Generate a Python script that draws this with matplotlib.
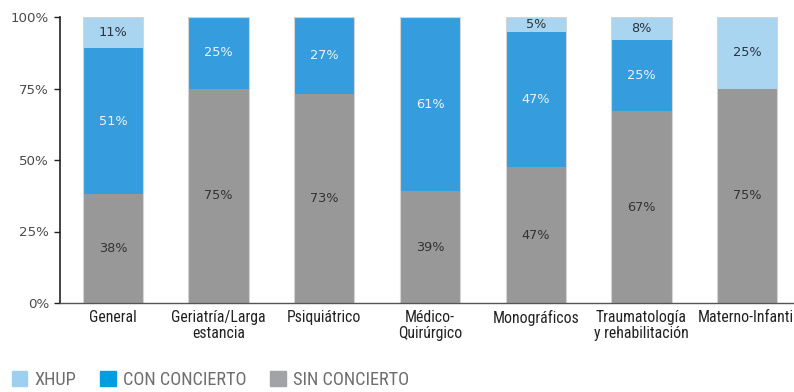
import matplotlib.pyplot as plt
from matplotlib import font_manager
from matplotlib.patches import Patch

categorias = ["General", "Geriatría/Larga\nestancia", "Psiquiátrico", "Médico-\nQuirúrgico",
              "Monográficos", "Traumatología\ny rehabilitación", "Materno-Infantil"]
sin_concierto = [38, 75, 73, 39, 47.4, 67, 75]
con_concierto = [51, 25, 27, 61, 47.4, 25, 0]
xhup = [11, 0, 0, 0, 5.2, 8, 25]
ticks_y = [0, 25, 50, 75, 100]


def fuente(opciones):
    nombres = {f.name for f in font_manager.fontManager.ttflist}
    for n in opciones:
        if n in nombres:
            return n
    return "DejaVu Sans"


estrecha = fuente(["Liberation Sans Narrow", "Roboto Condensed", "Liberation Sans"])

c_xhup = "#a9d5f0"
c_con = "#359ddd"
c_sin = "#989898"

fig = plt.figure(figsize=(7.94, 3.92), dpi=100)
ax = fig.add_axes([60 / 794, 89 / 392, 740 / 794, 286 / 392])

x = list(range(len(categorias)))
ancho = 0.57
base2 = [a + b for a, b in zip(sin_concierto, con_concierto)]
total = [a + b for a, b in zip(base2, xhup)]

b1 = ax.bar(x, sin_concierto, ancho, color=c_sin)
b2 = ax.bar(x, con_concierto, ancho, bottom=sin_concierto, color=c_con)
b3 = ax.bar(x, xhup, ancho, bottom=base2, color=c_xhup)
ax.bar(x, total, ancho, facecolor="none", edgecolor="#d4d4d4", linewidth=0.8)

# etiquetas de porcentaje en el centro de cada tramo
for barras, colortxt in [(b1, "#333333"), (b2, "#eef4fa"), (b3, "#2b3440")]:
    etiquetas = ["%.0f%%" % r.get_height() if r.get_height() > 0 else "" for r in barras]
    ax.bar_label(barras, labels=etiquetas, label_type="center", fontsize=9.3,
                 color=colortxt, family="DejaVu Sans")

ax.set_xlim(-0.5, 6.5)
ax.set_ylim(0, 100)
ax.set_yticks(ticks_y)
ax.set_yticklabels(["%d%%" % t for t in ticks_y], fontsize=9.6, color="#4a4a4a")
ax.set_xticks(x)
ax.set_xticklabels(categorias, fontsize=11.3, family=estrecha, color="#222222",
                   linespacing=1.05)
ax.tick_params(axis="x", length=0, pad=5)
ax.tick_params(axis="y", length=4, width=1, color="#222222", pad=4, direction="out")

for lado in ["top", "right"]:
    ax.spines[lado].set_visible(False)
ax.spines["left"].set_color("#222222")
ax.spines["left"].set_linewidth(1.2)
ax.spines["bottom"].set_color("#555555")
ax.spines["bottom"].set_linewidth(1.0)

leyenda = [Patch(color="#9dcff0", label="XHUP"),
           Patch(color="#009ee0", label="CON CONCIERTO"),
           Patch(color="#a2a3a6", label="SIN CONCIERTO")]
fig.legend(handles=leyenda, loc="center left", bbox_to_anchor=(-5 / 794, 12 / 392),
           ncol=3, frameon=False, handlelength=0.85, handleheight=0.85,
           handletextpad=0.4, columnspacing=1.3,
           prop={"family": estrecha, "size": 13.2}, labelcolor="#6e6e6e")

fig.savefig("out.png", dpi=100)
